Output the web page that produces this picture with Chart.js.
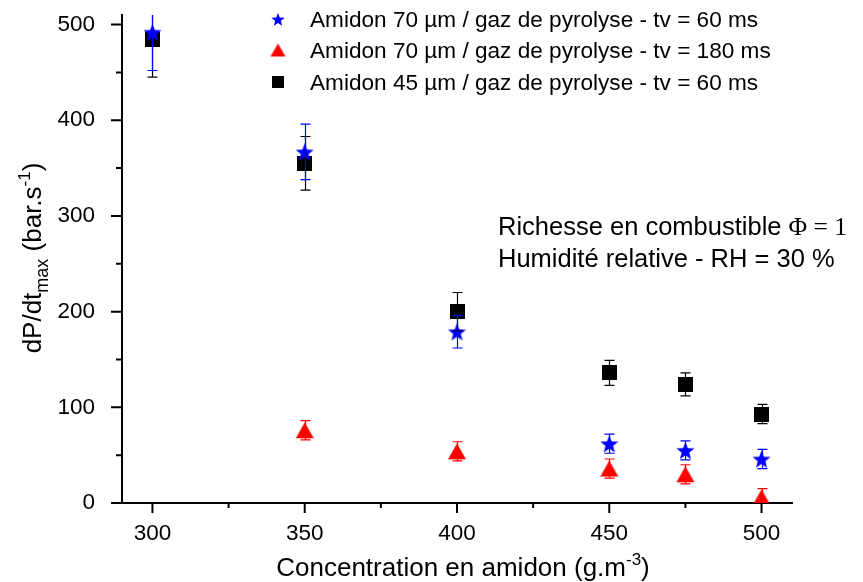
<!DOCTYPE html>
<html>
<head>
<meta charset="utf-8">
<script src="https://cdn.jsdelivr.net/npm/chart.js@4.4.1/dist/chart.umd.min.js"></script>
<style>
  html, body { margin: 0; padding: 0; background: #fff; }
  #wrap { width: 863px; height: 582px; }
</style>
</head>
<body>
<div id="wrap"><canvas id="chart"></canvas></div>
<script>
// data
const conc = [300, 350, 400, 450, 475, 500];
const blue60 = [492, 367, 179, 62, 55, 46];
const blue60Err = [40, 29, 17, 10, 10, 10];
const concRed = [350, 400, 450, 475, 500];
const red180 = [76, 54, 36, 30, 6];
const red180Err = [10, 10, 10, 10, 9];
const black45 = [484, 355, 200, 136, 124, 93];
const black45Err = [39, 28, 20, 13, 12, 10];

const xMajor = [300, 350, 400, 450, 500];
const xMinor = [325, 375, 425, 475];
const yMajor = [0, 100, 200, 300, 400, 500];
const yMinor = [50, 150, 250, 350, 450];

const seriesLabels = [
  'Amidon 70 \u00b5m / gaz de pyrolyse - tv = 60 ms',
  'Amidon 70 \u00b5m / gaz de pyrolyse - tv = 180 ms',
  'Amidon 45 \u00b5m / gaz de pyrolyse - tv = 60 ms'
];

const SANS = "'Liberation Sans', Arial, sans-serif";

// marker images
function makeStar(R, color) {
  const c = document.createElement('canvas');
  const s = Math.ceil(R * 2 + 2);
  c.width = s; c.height = s;
  const g = c.getContext('2d');
  g.fillStyle = color;
  g.beginPath();
  for (let i = 0; i < 10; i++) {
    const r = i % 2 ? R * 0.42 : R;
    const a = -Math.PI / 2 + i * Math.PI / 5;
    g.lineTo(s / 2 + r * Math.cos(a), s / 2 + 1 + r * Math.sin(a));
  }
  g.closePath();
  g.fill();
  return c;
}
function makeTri(w, h, color) {
  const c = document.createElement('canvas');
  c.width = w + 2; c.height = h + 2;
  const g = c.getContext('2d');
  g.fillStyle = color;
  g.beginPath();
  g.moveTo(1 + w / 2, 1);
  g.lineTo(1 + w, 1 + h);
  g.lineTo(1, 1 + h);
  g.closePath();
  g.fill();
  return c;
}
function makeSq(w, color) {
  const c = document.createElement('canvas');
  c.width = w; c.height = w;
  const g = c.getContext('2d');
  g.fillStyle = color;
  g.fillRect(0, 0, w, w);
  return c;
}

const markers = [makeStar(9.5, '#0000ff'), makeTri(18, 16, '#ff0000'), makeSq(15, '#000000')];
const legendMarkers = [makeStar(7, '#0000ff'), makeTri(15, 13, '#ff0000'), makeSq(12, '#000000')];
const colors = ['#0000ff', '#ff0000', '#000000'];
const errs = [blue60Err, red180Err, black45Err];

function pts(xs, ys) { return xs.map((x, i) => ({ x: x, y: ys[i] })); }

// rich text: parts of {t, size, dy, font}
function richWidth(ctx, parts) {
  let w = 0;
  parts.forEach(p => { ctx.font = p.size + 'px ' + (p.font || SANS); w += ctx.measureText(p.t).width; });
  return w;
}
function drawRich(ctx, parts, x, y) {
  parts.forEach(p => {
    ctx.font = p.size + 'px ' + (p.font || SANS);
    ctx.fillText(p.t, x, y + (p.dy || 0));
    x += ctx.measureText(p.t).width;
  });
}

const decorations = {
  id: 'decorations',
  afterDatasetsDraw(chart) {
    const { ctx, chartArea, scales: { x, y } } = chart;
    // error bars
    ctx.save();
    ctx.beginPath();
    ctx.rect(chartArea.left, chartArea.top, chartArea.right - chartArea.left, chartArea.bottom - chartArea.top);
    ctx.clip();
    [2, 1, 0].forEach(i => {
      const ds = chart.data.datasets[i];
      ctx.strokeStyle = colors[i];
      ctx.lineWidth = 1.2;
      ds.data.forEach((p, j) => {
        const px = Math.round(x.getPixelForValue(p.x)) + 0.5;
        const t = y.getPixelForValue(p.y + errs[i][j]);
        const b = y.getPixelForValue(p.y - errs[i][j]);
        ctx.beginPath();
        ctx.moveTo(px, t); ctx.lineTo(px, b);
        ctx.moveTo(px - 5, t); ctx.lineTo(px + 5, t);
        ctx.moveTo(px - 5, b); ctx.lineTo(px + 5, b);
        ctx.stroke();
      });
    });
    ctx.restore();
  },
  afterDraw(chart) {
    const { ctx, chartArea, scales: { x, y } } = chart;
    ctx.save();
    ctx.strokeStyle = '#000';
    ctx.lineWidth = 2;
    ctx.beginPath();
    yMajor.forEach(v => { const py = y.getPixelForValue(v); ctx.moveTo(chartArea.left - 11, py); ctx.lineTo(chartArea.left, py); });
    yMinor.forEach(v => { const py = y.getPixelForValue(v); ctx.moveTo(chartArea.left - 6, py); ctx.lineTo(chartArea.left, py); });
    xMajor.forEach(v => { const px = x.getPixelForValue(v); ctx.moveTo(px, chartArea.bottom); ctx.lineTo(px, chartArea.bottom + 10); });
    xMinor.forEach(v => { const px = x.getPixelForValue(v); ctx.moveTo(px, chartArea.bottom); ctx.lineTo(px, chartArea.bottom + 5); });
    ctx.stroke();

    ctx.fillStyle = '#000';
    ctx.textBaseline = 'alphabetic';
    ctx.textAlign = 'left';

    // x axis title
    const xt = [
      { t: 'Concentration en amidon (g.m', size: 26 },
      { t: '-3', size: 17, dy: -11 },
      { t: ')', size: 26 }
    ];
    drawRich(ctx, xt, 463 - richWidth(ctx, xt) / 2, 576);

    // y axis title
    const yt = [
      { t: 'dP/dt', size: 26 },
      { t: 'max', size: 18, dy: 7 },
      { t: ' (bar.s', size: 26 },
      { t: '-1', size: 17, dy: -11 },
      { t: ')', size: 26 }
    ];
    ctx.save();
    ctx.translate(41, 258);
    ctx.rotate(-Math.PI / 2);
    drawRich(ctx, yt, -richWidth(ctx, yt) / 2, 0);
    ctx.restore();

    // legend
    const rowY = [19, 50, 82];
    seriesLabels.forEach((lab, i) => {
      const m = legendMarkers[i];
      ctx.drawImage(m, 278 - m.width / 2, rowY[i] - m.height / 2);
      ctx.font = '22.6px ' + SANS;
      ctx.fillText(lab, 310, rowY[i] + 8);
    });

    // note
    drawRich(ctx, [
      { t: 'Richesse en combustible ', size: 25.5 },
      { t: '\u03a6 = 1', size: 25.5, font: "'Liberation Serif', 'Times New Roman', serif" }
    ], 498, 235);
    drawRich(ctx, [{ t: 'Humidit\u00e9 relative - RH = 30 %', size: 25.5 }], 498, 267);
    ctx.restore();
  }
};

const chart = new Chart(document.getElementById('chart'), {
  type: 'scatter',
  data: {
    datasets: [
      { label: seriesLabels[0], data: pts(conc, blue60), pointStyle: markers[0], backgroundColor: colors[0] },
      { label: seriesLabels[1], data: pts(concRed, red180), pointStyle: markers[1], backgroundColor: colors[1] },
      { label: seriesLabels[2], data: pts(conc, black45), pointStyle: markers[2], backgroundColor: colors[2] }
    ]
  },
  options: {
    responsive: true,
    maintainAspectRatio: false,
    animation: false,
    layout: { padding: { top: 15, right: 71, left: 0, bottom: 0 } },
    plugins: { legend: { display: false }, tooltip: { enabled: false } },
    scales: {
      x: {
        type: 'linear', min: 290, max: 510,
        afterBuildTicks: s => { s.ticks = xMajor.map(v => ({ value: v })); },
        afterFit: s => { s.height = 79; s.paddingLeft = 0; s.paddingRight = 0; },
        grid: { display: false },
        border: { display: true, color: '#000', width: 2 },
        ticks: { color: '#000', font: { family: SANS, size: 22.5 }, padding: 9, autoSkip: false, maxRotation: 0 }
      },
      y: {
        type: 'linear', min: 0, max: 510,
        afterBuildTicks: s => { s.ticks = yMajor.map(v => ({ value: v })); },
        afterFit: s => { s.width = 122; s.paddingTop = 0; s.paddingBottom = 0; },
        grid: { display: false },
        border: { display: true, color: '#000', width: 2 },
        ticks: { color: '#000', font: { family: SANS, size: 22.5 }, padding: 19, autoSkip: false }
      }
    }
  },
  plugins: [decorations]
});
</script>
</body>
</html>
